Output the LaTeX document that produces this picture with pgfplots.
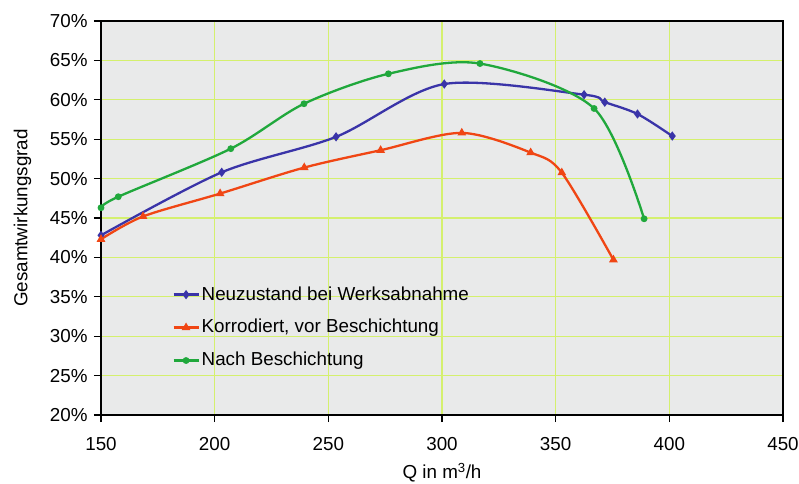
\documentclass[border=0pt]{standalone}
\usepackage{fontspec}
\setmainfont{Liberation Sans}
\usepackage{pgfplots}
\pgfplotsset{compat=1.18}
\definecolor{cblue}{RGB}{58,52,168}
\definecolor{cred}{RGB}{240,70,20}
\definecolor{cgreen}{RGB}{32,168,60}
\definecolor{cgrid}{RGB}{212,240,110}
\definecolor{cbg}{RGB}{233,234,234}
\begin{document}
\fontsize{18.8}{22}\selectfont
\begin{tikzpicture}
\useasboundingbox (-101pt,-68pt) rectangle (698pt,415pt);
\begin{axis}[
  at={(0pt,0pt)}, anchor=south west,
  scale only axis, width=682pt, height=394pt,
  xmin=150, xmax=450, ymin=20, ymax=70,
  xtick={150,200,...,450}, ytick={20,25,...,70},
  yticklabel={\pgfmathprintnumber{\tick}\%},
  /pgf/number format/assume math mode=true,
  tick align=outside, major tick length=7pt,
  xtick pos=left, ytick pos=left,
  tick style={black, line width=1.2pt},
  axis line style={black, line width=1.5pt},
  axis background/.style={fill=cbg},
  grid=major, grid style={cgrid, line width=1.2pt},
  tick label style={font=\fontsize{18.8}{22}\selectfont},
  xticklabel style={yshift=-9pt},
  label style={font=\fontsize{18.8}{22}\selectfont},
  xlabel={Q in m\textsuperscript{3}/h},
  ylabel={Gesamtwirkungsgrad},
  ylabel shift=6pt,
  legend style={draw=none, fill=none, at={(0.1,0.337)}, anchor=north west,
    font=\fontsize{18.8}{22}\selectfont, row sep=12.5pt},
  legend cell align=left,
  legend image code/.code={\draw[mark repeat=2,mark phase=2,#1] plot coordinates {(0pt,0pt) (12.5pt,0pt) (25pt,0pt)};},
]
\addplot[cblue, line width=2.3pt, smooth, mark=diamond*, mark size=2.8pt, mark options={solid}] coordinates {
 (150,42.8) (203.1,50.8) (253.4,55.3) (301,62.0) (362.5,60.65) (371.6,59.7) (386,58.2) (401.3,55.4)};
\addlegendentry{Neuzustand bei Werksabnahme}
\addplot[cred, line width=2.3pt, smooth, mark=triangle*, mark size=2.8pt, mark options={solid}] coordinates {
 (150,42.3) (168.5,45.2) (202.4,48.1) (239.4,51.4) (273,53.6) (308.7,55.8) (339,53.3) (352.7,50.75) (375.4,39.7)};
\addlegendentry{Korrodiert, vor Beschichtung}
\addplot[cgreen, line width=2.3pt, smooth, mark=*, mark size=2.2pt, mark options={solid}] coordinates {
 (150,46.3) (157.6,47.7) (207.1,53.8) (239.3,59.5) (276.4,63.3) (316.7,64.6) (366.9,58.9) (388.9,44.9)};
\addlegendentry{Nach Beschichtung}
\end{axis}
\end{tikzpicture}
\end{document}
